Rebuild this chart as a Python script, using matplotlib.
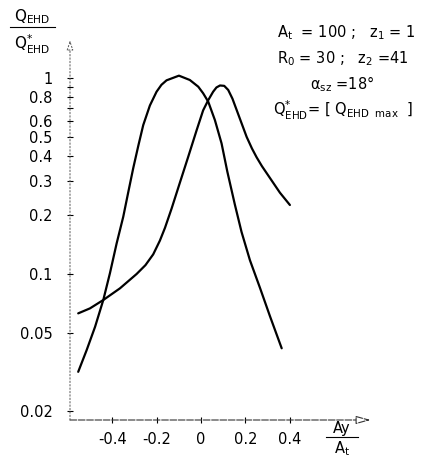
import matplotlib
matplotlib.use("Agg")
import matplotlib.pyplot as plt
from matplotlib.lines import Line2D

plt.rcParams["font.family"] = ["DejaVu Sans"]
plt.rcParams["mathtext.default"] = "regular"

# curve with the peak left of zero
ax_a = [-0.553, -0.515, -0.477, -0.440, -0.410, -0.380, -0.350, -0.327, -0.305,
        -0.282, -0.260, -0.230, -0.200, -0.178, -0.155, -0.099, -0.050, -0.012,
        0.010, 0.033, 0.063, 0.093, 0.119, 0.153, 0.183, 0.221, 0.266, 0.311, 0.364]
q_a = [0.0317, 0.0409, 0.0538, 0.0737, 0.101, 0.143, 0.196, 0.263, 0.347,
       0.452, 0.575, 0.724, 0.851, 0.923, 0.973, 1.028, 0.977, 0.903,
       0.836, 0.757, 0.610, 0.464, 0.333, 0.226, 0.164, 0.1175, 0.0851, 0.061, 0.0418]

# curve with the peak right of zero
ax_b = [-0.553, -0.500, -0.440, -0.365, -0.290, -0.250, -0.215, -0.185, -0.162,
        -0.132, -0.095, -0.058, -0.019, 0.010, 0.033, 0.055, 0.070, 0.086,
        0.105, 0.123, 0.142, 0.161, 0.206, 0.230, 0.251, 0.275, 0.302, 0.356, 0.401]
q_b = [0.0630, 0.0668, 0.0737, 0.0845, 0.100, 0.111, 0.126, 0.148, 0.172,
       0.216, 0.292, 0.394, 0.543, 0.684, 0.771, 0.851, 0.895, 0.916,
       0.912, 0.869, 0.785, 0.687, 0.501, 0.437, 0.394, 0.355, 0.320, 0.260, 0.225]

x_ticks = [-0.4, -0.2, 0, 0.2, 0.4]
x_labels = ["-0.4", "-0.2", "0", "0.2", "0.4"]
y_ticks = [1, 0.8, 0.6, 0.5, 0.4, 0.3, 0.2, 0.1, 0.05, 0.02]
y_labels = ["1", "0.8", "0.6", "0.5", "0.4", "0.3", "0.2", "0.1", "0.05", "0.02"]
y_minor = [0.9, 0.7]

W, H = 439, 459
fig = plt.figure(figsize=(W / 100, H / 100), dpi=100)
ax = fig.add_axes([70 / W, 1 - 420 / H, 304 / W, 382 / H])

x0, x1 = -0.59, 0.78
y0, y1 = 0.018, 1.6
ax.set_yscale("log")
ax.set_xlim(x0, x1)
ax.set_ylim(y0, y1)

for xs, ys in [(ax_a, q_a), (ax_b, q_b)]:
    ax.plot(xs, ys, color="black", lw=1.6, solid_capstyle="round",
            solid_joinstyle="round")

for s in ax.spines.values():
    s.set_visible(False)

# axes with open arrow heads
ax.annotate("", xy=(0.765, y0), xytext=(x0, y0),
            arrowprops=dict(arrowstyle="-|>,head_length=0.9,head_width=0.25",
                            fc="white", ec="#333333", lw=0.8, ls=(0, (6, 1.5)),
                            shrinkA=0, shrinkB=0))
ax.annotate("", xy=(x0, 1.56), xytext=(x0, y0),
            arrowprops=dict(arrowstyle="-|>,head_length=0.6,head_width=0.2",
                            fc="white", ec="#555555", lw=0.7, ls=(0, (1.5, 2)),
                            shrinkA=0, shrinkB=0))

ax.set_xticks(x_ticks)
ax.set_xticklabels(x_labels, fontsize=10.5)
ax.set_yticks(y_ticks)
ax.set_yticklabels(y_labels, fontsize=10.5)
ax.set_yticks(y_minor, minor=True)
ax.yaxis.set_minor_formatter(plt.NullFormatter())
ax.tick_params(axis="x", direction="inout", length=5, width=0.8, pad=6)
ax.tick_params(axis="y", which="both", direction="inout", length=5, width=0.8, pad=10)

# y axis label as a fraction
fig.text(32 / W, 1 - 17 / H, r"Q$_{EHD}$", fontsize=11, ha="center", va="center")
fig.add_artist(Line2D([10 / W, 55 / W], [1 - 27 / H, 1 - 27 / H], color="black", lw=0.8))
fig.text(32 / W, 1 - 44 / H, r"Q$^{*}_{EHD}$", fontsize=11, ha="center", va="center")

# x axis label as a fraction
fig.text(342 / W, 1 - 428 / H, "Ay", fontsize=10.5, ha="center", va="center")
fig.add_artist(Line2D([326 / W, 358 / W], [1 - 437 / H, 1 - 437 / H], color="black", lw=0.8))
fig.text(342 / W, 1 - 449 / H, r"A$_t$", fontsize=10.5, ha="center", va="center")

# parameters
fig.text(277 / W, 1 - 33 / H, r"A$_t$  = 100 ;   z$_1$ = 1", fontsize=10.5, va="center")
fig.text(277 / W, 1 - 59 / H, r"R$_0$ = 30 ;   z$_2$ =41", fontsize=10.5, va="center")
fig.text(310 / W, 1 - 84 / H, r"$\alpha_{sz}$ =18°", fontsize=10.5, va="center")
fig.text(273 / W, 1 - 110 / H, r"Q$^{*}_{EHD}$= [ Q$_{EHD\ \ max}$  ]", fontsize=10.5,
         va="center")

fig.savefig("out.png", dpi=100)
